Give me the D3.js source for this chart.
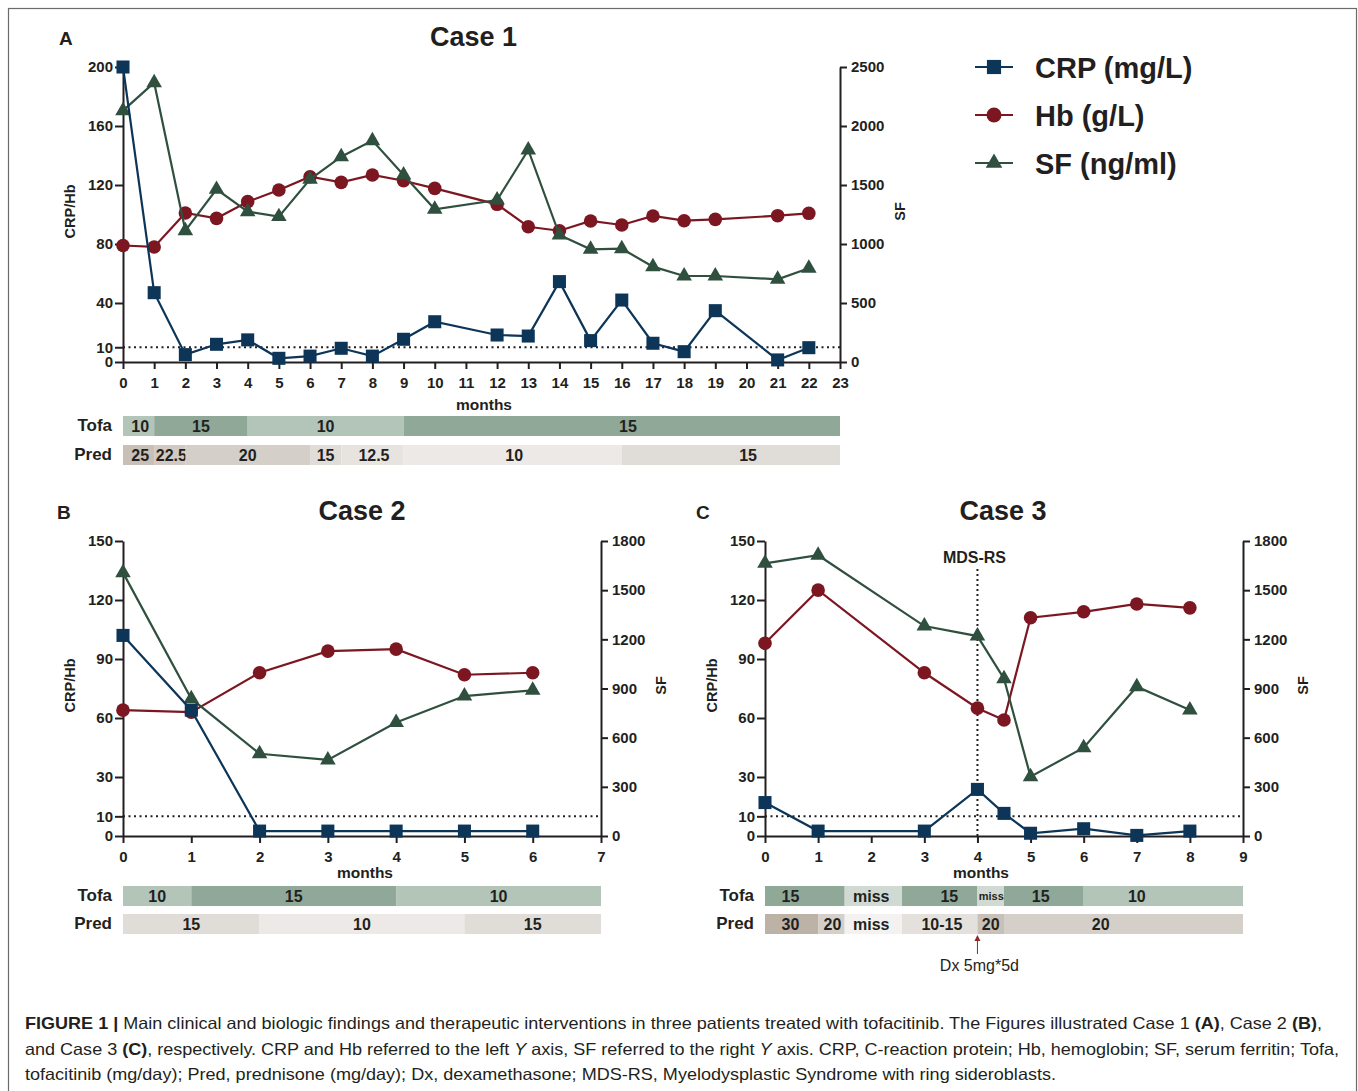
<!DOCTYPE html>
<html><head><meta charset="utf-8">
<script src="https://cdn.jsdelivr.net/npm/d3@7"></script>
<style>
body{margin:0;background:#fff}
svg{display:block}
text{font-family:"Liberation Sans",Arial,Helvetica,sans-serif;fill:#231f20}
</style>
</head><body>
<svg id="chart" width="1358" height="1091"></svg>
<script>
// ---------------- DATA ----------------
const seriesNames = ["CRP (mg/L)", "Hb (g/L)", "SF (ng/ml)"];

// Case 1
const case1Months = [0,1,2,3,4,5,6,7,8,9,10,12,13,14,15,16,17,18,19,21,22];
const case1CRP = [200,47,5,12,15,2.5,4,9.3,4,15.4,27.3,18.3,17.6,54.5,14.5,42,12.7,7,34.8,1.4,9.7];
const case1Hb  = [79,78,101,97.4,108.7,116.6,125.6,121.8,126.8,122.9,117.7,106.9,91.7,89,95.6,92.9,99,95.8,96.7,99.2,100.8];
const case1SF  = [2130,2367,1113,1463,1274,1232,1548,1740,1876,1585,1294,1373,1797,1076,955,960,808,729,729,701,794];
const case1XTicks = [0,1,2,3,4,5,6,7,8,9,10,11,12,13,14,15,16,17,18,19,20,21,22,23];
const case1LeftTicks = [0,10,40,80,120,160,200];
const case1RightTicks = [0,500,1000,1500,2000,2500];
const case1Tofa = [
  {from:0,to:1,dose:"10",at:0.55},
  {from:1,to:4,dose:"15",at:2.5},
  {from:4,to:9,dose:"10",at:6.5},
  {from:9,to:23,dose:"15",at:16.2}];
const case1Pred = [
  {from:0,to:1,dose:"25",at:0.55},
  {from:1,to:2,dose:"22.5",at:1.55},
  {from:2,to:6,dose:"20",at:4},
  {from:6,to:7,dose:"15",at:6.5},
  {from:7,to:9,dose:"12.5",at:8.05},
  {from:9,to:16,dose:"10",at:12.55},
  {from:16,to:23,dose:"15",at:20.05}];

// Case 2
const case2Months = [0,1,2,3,4,5,6];
const case2CRP = [102,64,2.5,2.5,2.5,2.5,2.5];
const case2Hb  = [64,63,83,94,95,82,83];
const case2SF  = [1607,838,502,464,692,854,889];
const case2XTicks = [0,1,2,3,4,5,6,7];
const case2LeftTicks = [0,10,30,60,90,120,150];
const case2RightTicks = [0,300,600,900,1200,1500,1800];
const case2Tofa = [
  {from:0,to:1,dose:"10",at:0.5},
  {from:1,to:4,dose:"15",at:2.5},
  {from:4,to:7,dose:"10",at:5.5}];
const case2Pred = [
  {from:0,to:2,dose:"15",at:1},
  {from:2,to:5,dose:"10",at:3.5},
  {from:5,to:7,dose:"15",at:6}];

// Case 3
const case3Months = [0,1,3,4,4.5,5,6,7,8];
const case3CRP = [17,2.5,2.5,23.7,11.5,1.4,3.7,0.3,2.5];
const case3Hb  = [98,125,83,65,59,111,114,118,116];
const case3SF  = [1664,1713,1281,1220,960,362,539,911,769];
const case3XTicks = [0,1,2,3,4,5,6,7,8,9];
const case3LeftTicks = [0,10,30,60,90,120,150];
const case3RightTicks = [0,300,600,900,1200,1500,1800];
const case3Tofa = [
  {from:0,to:1.5,dose:"15",at:0.48},
  {from:1.5,to:2.58,dose:"miss",at:2.0},
  {from:2.58,to:4,dose:"15",at:3.47},
  {from:4,to:4.5,dose:"miss",at:4.26,small:true},
  {from:4.5,to:6,dose:"15",at:5.19},
  {from:6,to:9,dose:"10",at:7}];
const case3Pred = [
  {from:0,to:1,dose:"30",at:0.48},
  {from:1,to:1.5,dose:"20",at:1.27},
  {from:1.5,to:2.58,dose:"miss",at:2.0},
  {from:2.58,to:4,dose:"10-15",at:3.33},
  {from:4,to:4.5,dose:"20",at:4.25,dark:true},
  {from:4.5,to:9,dose:"20",at:6.32}];
const case3Event = {month:4, label:"MDS-RS"};
const case3Dx = {month:4, label:"Dx 5mg*5d"};
const normalCRP = 10;

// ---------------- STYLE ----------------
const colCRP = "#0c3558", colHb = "#7c1722", colSF = "#30503f";
const axisCol = "#231f20";
const tofaFill = {"10":"#b3c4b9","15":"#8fa898","miss":"#d0dad3"};
const predFill = {"30":"#bcb2a6","25":"#c8c0b6","22.5":"#d0cac2","20":"#d4cfc8","15":"#e0dcd7",
                  "12.5":"#e7e4e0","10":"#ece9e6","10-15":"#e4e1dc","miss":"#f3f2f0"};

const svg = d3.select("#chart");
svg.append("rect").attr("width",1358).attr("height",1091).attr("fill","#fff");
svg.append("rect").attr("x",8.5).attr("y",8.5).attr("width",1348).attr("height",1110)
  .attr("fill","none").attr("stroke","#6b6b6b").attr("stroke-width",1.2);

function styleAxis(g, fs){
  g.select(".domain").attr("stroke",axisCol).attr("stroke-width",2);
  g.selectAll(".tick line").attr("stroke",axisCol).attr("stroke-width",2);
  g.selectAll(".tick text").attr("font-size",fs).attr("font-weight","bold").attr("fill",axisCol);
}

function drawPanel(c){
  const g = svg.append("g");
  const x = d3.scaleLinear().domain([0, c.xTicks[c.xTicks.length-1]]).range([c.x0, c.x1]);
  const yL = d3.scaleLinear().domain([0, c.leftTicks[c.leftTicks.length-1]]).range([c.yBot, c.yTop]);
  const yR = d3.scaleLinear().domain([0, c.rightTicks[c.rightTicks.length-1]]).range([c.yBot, c.yTop]);
  const fmt = d3.format("d");

  // title + panel letter
  g.append("text").attr("x",(c.x0+c.x1)/2 + c.titleDx).attr("y",c.yTop-21).attr("text-anchor","middle")
    .attr("font-size",27).attr("font-weight","bold").text(c.title);
  g.append("text").attr("x",c.letterX).attr("y",c.yTop-22).attr("font-size",19).attr("font-weight","bold").text(c.letter);

  // dotted normal line
  g.append("line").attr("x1",c.x0).attr("x2",c.x1).attr("y1",yL(normalCRP)).attr("y2",yL(normalCRP))
    .attr("stroke","#231f20").attr("stroke-width",2).attr("stroke-dasharray","2,3.5");

  // axes
  const ax = g.append("g").attr("transform",`translate(0,${c.yBot})`)
    .call(d3.axisBottom(x).tickValues(c.xTicks).tickFormat(fmt).tickSize(7).tickPadding(8).tickSizeOuter(0));
  styleAxis(ax, 15);
  const al = g.append("g").attr("transform",`translate(${c.x0},0)`)
    .call(d3.axisLeft(yL).tickValues(c.leftTicks).tickFormat(fmt).tickSize(8).tickPadding(2).tickSizeOuter(0));
  styleAxis(al, 15);
  const ar = g.append("g").attr("transform",`translate(${c.x1},0)`)
    .call(d3.axisRight(yR).tickValues(c.rightTicks).tickFormat(fmt).tickSize(7).tickPadding(4).tickSizeOuter(0));
  styleAxis(ar, 15);

  // axis titles
  const midY = (c.yTop+c.yBot)/2;
  g.append("text").attr("transform",`translate(${c.x0-48},${midY-3}) rotate(-90)`).attr("text-anchor","middle")
    .attr("font-size",14.5).attr("font-weight","bold").text("CRP/Hb");
  g.append("text").attr("transform",`translate(${c.x1+65},${midY-3}) rotate(-90)`).attr("text-anchor","middle")
    .attr("font-size",14.5).attr("font-weight","bold").text("SF");
  g.append("text").attr("x",c.monthsX).attr("y",c.yBot+c.monthsDy).attr("text-anchor","middle")
    .attr("font-size",15.5).attr("font-weight","bold").text("months");

  // event line (case 3)
  if (c.event){
    g.append("line").attr("x1",x(c.event.month)).attr("x2",x(c.event.month))
      .attr("y1",c.yTop+28).attr("y2",c.yBot)
      .attr("stroke","#231f20").attr("stroke-width",2).attr("stroke-dasharray","2,3");
    g.append("text").attr("x",x(c.event.month)-3).attr("y",c.yTop+22).attr("text-anchor","middle")
      .attr("font-size",16).attr("font-weight","bold").text(c.event.label);
  }

  // series
  const series = [
    {vals:c.hb, y:yL, col:colHb, sym:"circle"},
    {vals:c.sf, y:yR, col:colSF, sym:"triangle"},
    {vals:c.crp, y:yL, col:colCRP, sym:"square"}];
  series.forEach(s=>{
    const pts = c.months.map((m,i)=>({m, v:s.vals[i]}));
    g.append("path").datum(pts).attr("fill","none").attr("stroke",s.col).attr("stroke-width",2.2)
      .attr("d", d3.line().x(d=>x(d.m)).y(d=>s.y(d.v)));
    const mk = g.selectAll(null).data(pts).enter();
    if (s.sym==="circle"){
      mk.append("circle").attr("cx",d=>x(d.m)).attr("cy",d=>s.y(d.v)).attr("r",6.8).attr("fill",s.col);
    } else if (s.sym==="square"){
      mk.append("path").attr("transform",d=>`translate(${x(d.m)},${s.y(d.v)})`)
        .attr("d", d3.symbol(d3.symbolSquare, 170)()).attr("fill",s.col);
    } else {
      mk.append("path").attr("transform",d=>`translate(${x(d.m)},${s.y(d.v)})`)
        .attr("d", d3.symbol(d3.symbolTriangle, 105)()).attr("fill",s.col);
    }
  });

  // treatment bars
  const rows = [{name:"Tofa", segs:c.tofa, fill:tofaFill, y:c.barY1},
                {name:"Pred", segs:c.pred, fill:predFill, y:c.barY2}];
  rows.forEach(r=>{
    g.append("text").attr("x",c.x0-11).attr("y",r.y+15).attr("text-anchor","end")
      .attr("font-size",17).attr("font-weight","bold").text(r.name);
    r.segs.forEach(s=>{
      g.append("rect").attr("x",x(s.from)).attr("y",r.y).attr("width",x(s.to)-x(s.from)).attr("height",20)
        .attr("fill", s.dark ? "#c9c1b7" : r.fill[s.dose]);
      g.append("text").attr("x",x(s.at)).attr("y",r.y+ (s.small?14:16)).attr("text-anchor","middle")
        .attr("font-size", s.small?11:16).attr("font-weight","bold").text(s.dose);
    });
  });

  // Dx annotation
  if (c.dx){
    const ax0 = x(c.dx.month);
    g.append("line").attr("x1",ax0).attr("x2",ax0).attr("y1",c.barY2+40).attr("y2",c.barY2+25)
      .attr("stroke","#8b2a2a").attr("stroke-width",1);
    g.append("path").attr("d",`M${ax0-3},${c.barY2+27} L${ax0},${c.barY2+21} L${ax0+3},${c.barY2+27} Z`).attr("fill","#8b2a2a");
    g.append("text").attr("x",ax0+2).attr("y",c.barY2+57).attr("text-anchor","middle")
      .attr("font-size",16).attr("fill","#333").text(c.dx.label);
  }
}

drawPanel({x0:123,x1:840,yTop:67,yBot:362,xTicks:case1XTicks,leftTicks:case1LeftTicks,rightTicks:case1RightTicks,
  months:case1Months,crp:case1CRP,hb:case1Hb,sf:case1SF,title:"Case 1",titleDx:-8,letter:"A",letterX:59,
  monthsX:484,monthsDy:48,tofa:case1Tofa,pred:case1Pred,barY1:416,barY2:445});
drawPanel({x0:123,x1:601,yTop:541,yBot:836,xTicks:case2XTicks,leftTicks:case2LeftTicks,rightTicks:case2RightTicks,
  months:case2Months,crp:case2CRP,hb:case2Hb,sf:case2SF,title:"Case 2",titleDx:0,letter:"B",letterX:57,
  monthsX:365,monthsDy:42,tofa:case2Tofa,pred:case2Pred,barY1:886,barY2:914});
drawPanel({x0:765,x1:1243,yTop:541,yBot:836,xTicks:case3XTicks,leftTicks:case3LeftTicks,rightTicks:case3RightTicks,
  months:case3Months,crp:case3CRP,hb:case3Hb,sf:case3SF,title:"Case 3",titleDx:-1,letter:"C",letterX:696,
  monthsX:981,monthsDy:42,tofa:case3Tofa,pred:case3Pred,barY1:886,barY2:914,event:case3Event,dx:case3Dx});

// legend
const legCols = [colCRP, colHb, colSF];
const legSyms = ["square","circle","triangle"];
seriesNames.forEach((n,i)=>{
  const cy = 67 + i*48;
  const lg = svg.append("g");
  lg.append("line").attr("x1",975).attr("x2",1013).attr("y1",cy).attr("y2",cy).attr("stroke",legCols[i]).attr("stroke-width",2);
  if (legSyms[i]==="circle") lg.append("circle").attr("cx",994).attr("cy",cy).attr("r",7.5).attr("fill",legCols[i]);
  else lg.append("path").attr("transform",`translate(994,${cy})`)
    .attr("d", d3.symbol(legSyms[i]==="square"?d3.symbolSquare:d3.symbolTriangle, legSyms[i]==="square"?200:120)())
    .attr("fill",legCols[i]);
  lg.append("text").attr("x",1035).attr("y",cy+11).attr("font-size",29).attr("font-weight","bold").text(n);
});

// caption
const capLines = [
  {y:1029, w:1297, parts:[["FIGURE 1 |","b"],[" Main clinical and biologic findings and therapeutic interventions in three patients treated with tofacitinib. The Figures illustrated Case 1 ",""],["(A)","b"],[", Case 2 ",""],["(B)","b"],[",",""]]},
  {y:1055, w:1314, parts:[["and Case 3 ",""],["(C)","b"],[", respectively. CRP and Hb referred to the left ",""],["Y","i"],[" axis, SF referred to the right ",""],["Y","i"],[" axis. CRP, C-reaction protein; Hb, hemoglobin; SF, serum ferritin; Tofa,",""]]},
  {y:1080, w:1031, parts:[["tofacitinib (mg/day); Pred, prednisone (mg/day); Dx, dexamethasone; MDS-RS, Myelodysplastic Syndrome with ring sideroblasts.",""]]}
];
capLines.forEach(l=>{
  const t = svg.append("text").attr("x",25).attr("y",l.y).attr("font-size",16.5).attr("fill","#2a2a2a")
    .attr("textLength",l.w).attr("lengthAdjust","spacingAndGlyphs").style("white-space","pre");
  l.parts.forEach(p=>{
    const ts = t.append("tspan").text(p[0]);
    if (p[1]==="b") ts.attr("font-weight","bold");
    if (p[1]==="i") ts.attr("font-style","italic");
  });
});
</script>
</body></html>
